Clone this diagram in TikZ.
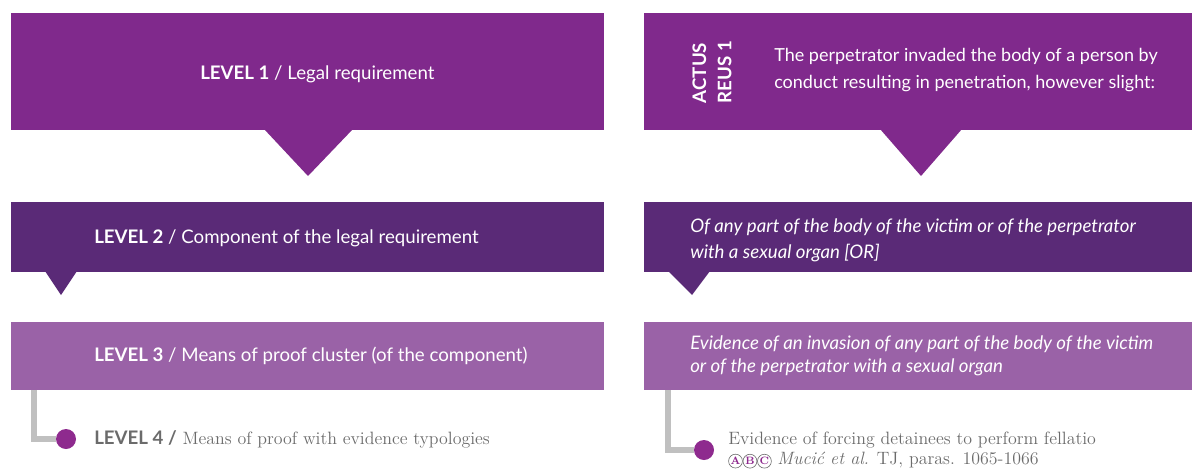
\documentclass[tikz,border=0pt]{standalone}
\usepackage{fontspec}
\setsansfont{Lato}
\usepackage{xcolor}
\usepackage{tikz}
\usetikzlibrary{calc}
\definecolor{lvlone}{HTML}{80298C}
\definecolor{lvltwo}{HTML}{5A2A77}
\definecolor{lvlthree}{HTML}{9A62A7}
\definecolor{dotcolor}{HTML}{8E2A8E}
\definecolor{linegray}{HTML}{C0C0C0}
\definecolor{textgray}{HTML}{6B6B6B}
\newcommand{\circlet}[1]{\tikz[baseline=(c.base)]\node[circle, draw=textgray, line width=0.45pt,
  text=dotcolor, inner sep=0pt, minimum size=10.4pt, anchor=center,
  font=\bfseries\fontsize{8}{8}\selectfont] (c) {#1};}

\begin{document}
\begin{tikzpicture}[x=0.75pt,y=-0.75pt,
  box/.style={inner sep=0pt, outer sep=0pt, anchor=north west},
  boxtext/.style={anchor=west, inner sep=0pt, align=left, text=white,
    font=\sffamily\fontsize{14}{19.5}\selectfont},
  lvlfour/.style={anchor=west, inner sep=0pt, align=left, text=textgray,
    font=\fontsize{13.4}{15.5}\selectfont},
  dot/.style={circle, fill=dotcolor, minimum size=15pt, inner sep=0pt},
  link/.style={linegray, line width=4.5pt}]
\useasboundingbox (0,0) rectangle (1192,468);
%% left column
\node[box, fill=lvlone, minimum width=444.75pt, minimum height=87.75pt] (l1) at (11,13) {};
\fill[lvlone] (264,129) -- (308,176) -- (353,129) -- cycle;
\node[box, fill=lvltwo, minimum width=444.75pt, minimum height=52.5pt] (l2) at (11,202) {};
\fill[lvltwo] (45,271) -- (61,295) -- (77,271) -- cycle;
\node[box, fill=lvlthree, minimum width=444.75pt, minimum height=51pt] (l3) at (11,322) {};
\node[boxtext] (t1) at (200,74) {\textbf{LEVEL 1} / Legal requirement};
\node[boxtext] (t2) at (94,238) {\textbf{LEVEL 2} / Component of the legal requirement};
\node[boxtext] (t3) at (94,356) {\textbf{LEVEL 3} / Means of proof cluster (of the component)};
\node[dot] (d4) at (66,439) {};
\draw[link] ($(l3.south west)+(23,0)$) |- (d4);
\node[lvlfour] (t4) at (94,439) {{\sffamily\bfseries\fontsize{14}{15.5}\selectfont LEVEL 4 /} Means of proof with evidence typologies};
%% right column
\node[box, fill=lvlone, minimum width=411pt, minimum height=87.75pt] (r1) at (644,13) {};
\fill[lvlone] (880,129) -- (921,176) -- (962,129) -- cycle;
\node[box, fill=lvltwo, minimum width=411pt, minimum height=52.5pt] (r2) at (644,202) {};
\fill[lvltwo] (668,271) -- (692,295) -- (710,271) -- cycle;
\node[box, fill=lvlthree, minimum width=411pt, minimum height=51pt] (r3) at (644,322) {};
\node[boxtext, anchor=center, rotate=90, font=\sffamily\bfseries\fontsize{14}{19}\selectfont] (ar) at (712,72) {ACTUS\\REUS 1};
\node[boxtext, font=\sffamily\fontsize{13.5}{20}\selectfont] (a1) at (774,70) {The perpetrator invaded the body of a person by\\conduct resulting in penetration, however slight:};
\node[boxtext, font=\sffamily\itshape\fontsize{14}{19.5}\selectfont] (a2) at (690,240) {Of any part of the body of the victim or of the perpetrator\\with a sexual organ [OR]};
\node[boxtext, font=\sffamily\itshape\fontsize{14}{17}\selectfont] (a3) at (690,356) {Evidence of an invasion of any part of the body of the victim\\or of the perpetrator with a sexual organ};
\node[dot] (e4) at (704,450) {};
\draw[link] ($(r3.south west)+(24,0)$) |- (e4);
\node[lvlfour] (a4) at (728,450) {Evidence of forcing detainees to perform fellatio\\\circlet{A}\circlet{B}\circlet{C} \textit{Mucić et al.} TJ, paras. 1065-1066};
\end{tikzpicture}
\end{document}
